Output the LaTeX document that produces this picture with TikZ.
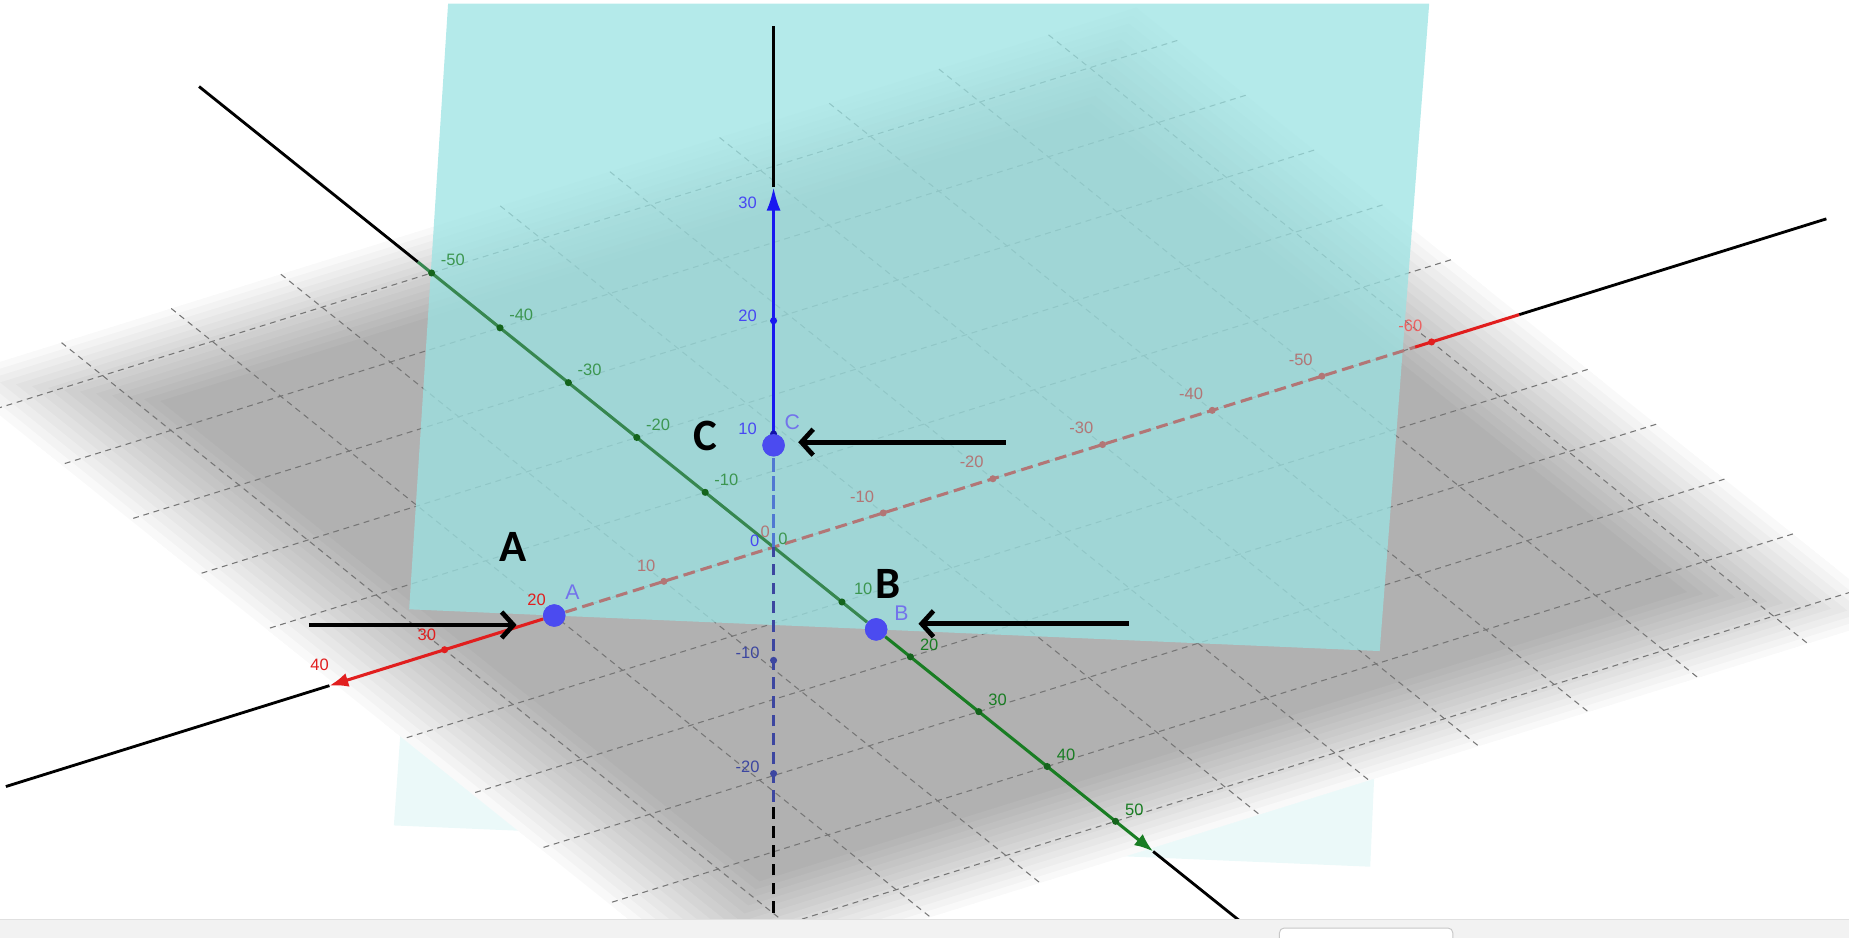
\documentclass[tikz,border=0pt]{standalone}
\usepackage{fontspec}
\setmainfont{Liberation Sans}
\newfontfamily\calloutfont{Carlito}
\usetikzlibrary{positioning,arrows.meta}

\definecolor{planecyan}{RGB}{155,227,227}
\definecolor{axred}{RGB}{225,30,30}
\definecolor{axredhid}{RGB}{178,118,118}
\definecolor{axgreen}{RGB}{25,125,35}
\definecolor{axgreenhid}{RGB}{55,135,80}
\definecolor{lblgreen}{RGB}{60,150,80}
\definecolor{axblue}{RGB}{25,25,240}
\definecolor{axbluehid}{RGB}{80,120,210}
\definecolor{axbluedark}{RGB}{60,70,160}
\definecolor{ptblue}{RGB}{75,75,240}
\definecolor{lblblue}{RGB}{115,115,235}
\definecolor{gridgray}{RGB}{118,118,118}

\begin{document}
\begin{tikzpicture}[x=0.5pt, y=-0.5pt,
    gridline/.style={gridgray, line width=0.45pt, dash pattern=on 2.5pt off 2pt},
    tickdot/.style={circle, fill=#1, inner sep=0pt, minimum size=3pt},
    ticklab/.style={font=\fontsize{7}{7}\selectfont, text=#1, inner sep=0pt},
    point/.style={circle, fill=ptblue, inner sep=0pt, minimum size=9.5pt},
    ptlabel/.style={font=\fontsize{9}{9}\selectfont, text=lblblue, inner sep=0pt},
    callout/.style={font=\calloutfont\bfseries\fontsize{19}{19}\selectfont, inner sep=0pt},
    bigarrow/.style={line width=2pt, -{Straight Barb[length=5pt, width=11pt]}},
    axisend/.style={black, line width=1.2pt},
    axhead/.style={-{Latex[length=8pt, width=6pt]}}
  ]
  \useasboundingbox (0,0) rectangle (1568,795);
  \clip (0,0) rectangle (1568,795);

  % lower half of the plane ABC, seen below the xy-plane
  \fill[planecyan, fill opacity=0.2] (347,516.7) -- (1170,552.1) -- (1162,735) -- (334,700) -- cycle;

  \begin{scope}[shift={(656,464)}, x={(-4.65pt,-1.45pt)}, y={(2.9pt,-2.325pt)}, z={(0pt,4.8pt)}]
    % xy-plane, darker towards the middle
    \fill[white] (-68,-56) -- (40,-56) -- (40,55) -- (-68,55) -- cycle;
    \foreach \i in {0,...,13}
      \fill[black, fill opacity=0.025] ({-68+0.9*\i},{-56+0.9*\i}) -- ({40-0.9*\i},{-56+0.9*\i})
        -- ({40-0.9*\i},{55-0.9*\i}) -- ({-68+0.9*\i},{55-0.9*\i}) -- cycle;
    \foreach \gx in {-60,-50,...,30}
      \draw[gridline] (\gx,-56) -- (\gx,55);
    \foreach \gy in {-50,-40,...,50}
      \draw[gridline] (-68,\gy) -- (40,\gy);
  \end{scope}

  % upper half of the plane ABC
  \fill[planecyan, fill opacity=0.75] (380,3) -- (1212,3) -- (1170,552.1) -- (347,516.7) -- cycle;

  \begin{scope}[shift={(656,464)}, x={(-4.65pt,-1.45pt)}, y={(2.9pt,-2.325pt)}, z={(0pt,4.8pt)}]
    \node[point] (A) at (20,0,0) {};
    \node[point] (B) at (0,15,0) {};
    \node[point] (C) at (0,0,9) {};

    % x axis
    \draw[axredhid, line width=1.3pt, dash pattern=on 5pt off 2.5pt] (A) -- (-58.5,0,0);
    \draw[axred, line width=1.3pt] (-58.5,0,0) -- (-68,0,0);
    \draw[axisend] (-68,0,0) -- (-96,0,0);
    \draw[axred, line width=1.3pt, axhead] (A) -- (40.5,0,0);
    \draw[axisend] (40.5,0,0) -- (70,0,0);
    % y axis
    \draw[axisend] (0,-84,0) -- (0,-52,0);
    \draw[axgreenhid, line width=1.3pt] (0,-52,0) -- (B);
    \draw[axgreen, line width=1.3pt, axhead] (B) -- (0,55.5,0);
    \draw[axisend] (0,55.5,0) -- (0,69,0);
    % z axis
    \draw[black, line width=1pt, dash pattern=on 5pt off 3pt] (0,0,-34) -- (0,0,-22.5);
    \draw[axbluedark, line width=1pt, dash pattern=on 5pt off 3pt] (0,0,-22.5) -- (0,0,0);
    \draw[axbluehid, line width=1pt, dash pattern=on 6pt off 2pt] (0,0,0) -- (C);
    \draw[axblue, line width=1.3pt, -{Latex[length=10pt, width=6pt]}] (C) -- (0,0,31.8);
    \draw[axisend] (0,0,31.8) -- (0,0,46);

    % ticks and numbers
    \node[tickdot=axredhid] (xt10) at (10,0,0) {};
    \node[tickdot=axred] (xt30) at (30,0,0) {};
    \foreach \v in {-10,-20,-30,-40,-50}
      \node[tickdot=axredhid] (xt\v) at (\v,0,0) {};
    \node[tickdot=axred] (xt-60) at (-60,0,0) {};
    \node[ticklab=axredhid] (xl10) at ([xshift=-7.5pt, yshift=6.5pt]xt10.center) {10};
    \node[ticklab=axred] (xl20) at ([xshift=-7.5pt, yshift=6.5pt]A.center) {20};
    \node[ticklab=axred] (xl30) at ([xshift=-7.5pt, yshift=6.5pt]xt30.center) {30};
    \node[ticklab=axred] (xl40) at ([xshift=-6.5pt, yshift=8pt]40,0,0) {40};
    \foreach \v in {-10,-20,-30,-40,-50}
      \node[ticklab=axredhid] (xl\v) at ([xshift=-9pt, yshift=7pt]xt\v.center) {\v};
    \node[ticklab=axred!70] (xl-60) at ([xshift=-9pt, yshift=7pt]xt-60.center) {-60};

    \foreach \v in {-50,-40,-30,-20,-10,10,20,30,40,50}
      \node[tickdot=axgreen!80!black] (yt\v) at (0,\v,0) {};
    \foreach \v in {-50,-40,-30,-20,-10,10}
      \node[ticklab=lblgreen] (yl\v) at ([xshift=9pt, yshift=5.5pt]yt\v.center) {\v};
    \foreach \v in {20,30,40,50}
      \node[ticklab=axgreen] (yl\v) at ([xshift=8pt, yshift=5pt]yt\v.center) {\v};

    \node[tickdot=axblue] (zt20) at (0,0,20) {};
    \node[tickdot=axblue!70!black] (zt10) at (0,0,10) {};
    \node[tickdot=axbluedark] (zt-10) at (0,0,-10) {};
    \node[tickdot=axbluedark] (zt-20) at (0,0,-20) {};
    \foreach \v in {10,20,30}
      \node[ticklab=axblue!80] (zl\v) at ([xshift=-11pt, yshift=2pt]0,0,\v) {\v};
    \foreach \v in {-10,-20}
      \node[ticklab=axbluedark] (zl\v) at ([xshift=-11pt, yshift=3pt]zt\v.center) {\v};

    \node[ticklab=axblue!80] (o1) at ([xshift=-8pt, yshift=2.5pt]0,0,0) {0};
    \node[ticklab=axredhid] (o2) at ([xshift=-3.5pt, yshift=6.5pt]0,0,0) {0};
    \node[ticklab=lblgreen] (o3) at ([xshift=4pt, yshift=3.5pt]0,0,0) {0};
  \end{scope}

  \node[point] at (A) {};
  \node[point] at (B) {};
  \node[point] at (C) {};
  \node[ptlabel, above right=3pt and 1pt of A] (labA) {A};
  \node[ptlabel, above right=0pt and 4pt of B] (labB) {B};
  \node[ptlabel, above right=3pt and 1pt of C] (labC) {C};

  % callouts
  \node[callout] (bigA) at (435,464) {A};
  \node[callout] (bigB) at (753,495) {B};
  \node[callout] (bigC) at (598,370) {C};
  \coordinate (tailA) at (262,530);
  \coordinate (tailB) at (957,529);
  \coordinate (tailC) at (853,375);
  \draw[bigarrow, shorten >=11pt] (tailA) -- (tailA -| A.west);
  \draw[bigarrow, shorten >=13pt] (tailB) -- (tailB -| B.east);
  \draw[bigarrow, shorten >=5.5pt] (tailC) -- (tailC -| C.east);

  % status bar of the window
  \fill[black!5] (0,780) rectangle (1568,805);
  \draw[black!12] (0,780) -- (1568,780);
  \draw[black!22, fill=white, rounded corners=2pt] (1085,787) rectangle (1232,810);
\end{tikzpicture}
\end{document}
